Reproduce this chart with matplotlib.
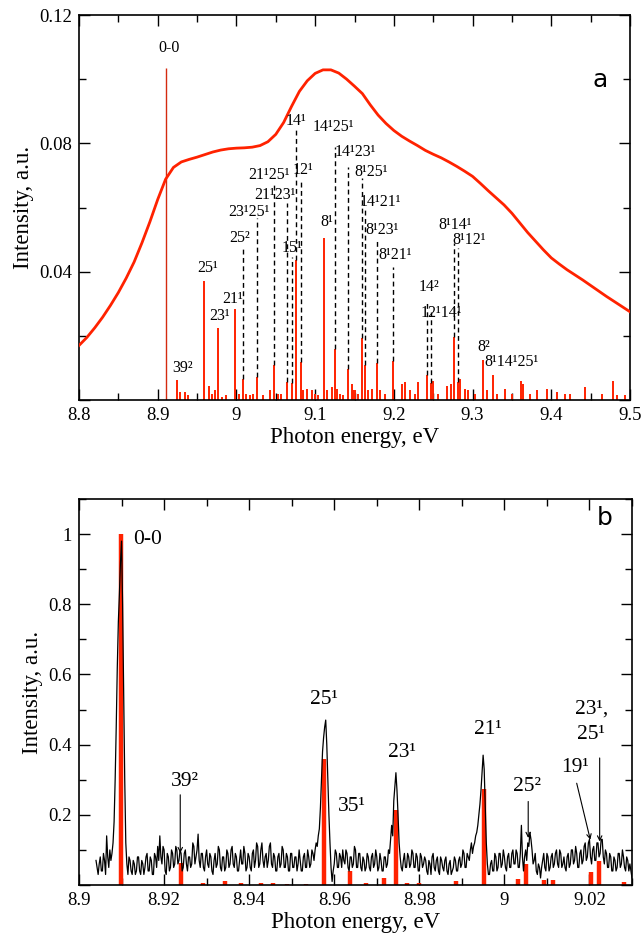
import matplotlib
matplotlib.use("Agg")
import matplotlib.pyplot as plt
from matplotlib.ticker import MultipleLocator, FuncFormatter

plt.rcParams['font.family'] = ['Liberation Serif', 'DejaVu Serif']

RED = "#ff2200"

# ---------------- panel a data ----------------
# smooth envelope
env_e = [8.80, 8.81, 8.82, 8.83, 8.84, 8.85, 8.86, 8.87, 8.88, 8.89,
         8.90, 8.91, 8.92, 8.93, 8.94, 8.95, 8.96, 8.97, 8.98, 8.99,
         9.00, 9.01, 9.02, 9.03, 9.04, 9.05, 9.06, 9.07, 9.08, 9.09,
         9.10, 9.11, 9.12, 9.13, 9.14, 9.15, 9.16, 9.17, 9.18, 9.19,
         9.20, 9.21, 9.22, 9.23, 9.24, 9.25, 9.26, 9.27, 9.28, 9.29,
         9.30, 9.31, 9.32, 9.33, 9.34, 9.35, 9.36, 9.37, 9.38, 9.39,
         9.40, 9.41, 9.42, 9.43, 9.44, 9.45, 9.46, 9.47, 9.48, 9.49, 9.50]
env_i = [0.0170, 0.0195, 0.0225, 0.0258, 0.0295, 0.0335, 0.0380, 0.0430, 0.0490, 0.0555,
         0.0625, 0.0688, 0.0725, 0.0742, 0.0750, 0.0757, 0.0765, 0.0773, 0.0779, 0.0783,
         0.0785, 0.0786, 0.0788, 0.0793, 0.0805, 0.0828, 0.0865, 0.0915, 0.0962, 0.0995,
         0.1018, 0.1029, 0.1029, 0.1019, 0.1000, 0.0978, 0.0955, 0.0920, 0.0888, 0.0862,
         0.0840, 0.0822, 0.0807, 0.0793, 0.0778, 0.0766, 0.0755, 0.0742, 0.0728, 0.0713,
         0.0697, 0.0675, 0.0652, 0.0630, 0.0608, 0.0582, 0.0552, 0.0522, 0.0495, 0.0468,
         0.0443, 0.0424, 0.0406, 0.0390, 0.0374, 0.0357, 0.0340, 0.0323, 0.0307, 0.0291, 0.0275]

# 0-0 origin line
origin_e = 8.910
origin_i = 0.1035

# stick spectrum
stick_e = [8.9245, 8.959, 8.976, 8.998, 9.008, 9.026, 9.0477, 9.0639, 9.0712, 9.0757,
           9.0815, 9.1116, 9.1253, 9.142, 9.159, 9.1634, 9.178, 9.1993, 9.2416, 9.2472,
           9.2768, 9.2819, 9.3128, 9.3264,
           8.9283, 8.935, 8.939, 8.9656, 8.9686, 8.9728, 8.9813, 8.9868, 9.0037, 9.0122,
           9.0172, 9.0215, 9.0334, 9.0427, 9.0533, 9.0566, 9.085, 9.0893, 9.0956, 9.0998,
           9.104, 9.1147, 9.121, 9.1274, 9.1316, 9.1358, 9.1464, 9.1485, 9.1506, 9.1549,
           9.1676, 9.1719, 9.1824, 9.1888, 9.21, 9.2142, 9.2205, 9.2269, 9.2311, 9.2502,
           9.2565, 9.2671, 9.2726, 9.284, 9.2904, 9.2946, 9.3031, 9.318, 9.3307, 9.3412,
           9.3497, 9.3616, 9.3637, 9.373, 9.3815, 9.3942, 9.4069, 9.4175, 9.4238, 9.4429,
           9.4641, 9.4789, 9.483, 9.4937]
stick_i = [0.0062, 0.037, 0.0225, 0.0285, 0.0065, 0.0072, 0.011, 0.0056, 0.0053, 0.0436,
           0.0117, 0.0506, 0.0159, 0.0097, 0.0194, 0.011, 0.0115, 0.0122, 0.0078, 0.0053,
           0.0197, 0.0057, 0.0125, 0.0078,
           0.0025, 0.0025, 0.0015, 0.0045, 0.002, 0.003, 0.001, 0.0015, 0.002, 0.002,
           0.0015, 0.002, 0.0015, 0.003, 0.002, 0.002, 0.003, 0.0035, 0.003, 0.002,
           0.0015, 0.003, 0.004, 0.0035, 0.002, 0.0015, 0.005, 0.003, 0.003, 0.002,
           0.003, 0.0035, 0.003, 0.002, 0.005, 0.0055, 0.003, 0.002, 0.0055, 0.006,
           0.002, 0.0045, 0.005, 0.0065, 0.0035, 0.003, 0.002, 0.003, 0.002, 0.0035,
           0.002, 0.006, 0.005, 0.002, 0.003, 0.0035, 0.0025, 0.002, 0.002, 0.004,
           0.002, 0.006, 0.0015, 0.0015]

# dashed leader lines: energy, bottom, top
lead_e = [9.008, 9.026, 9.0477, 9.0639, 9.0712, 9.0757, 9.0815, 9.1253, 9.142, 9.159,
          9.1634, 9.178, 9.1993, 9.2416, 9.2472, 9.2768, 9.2819]
lead_lo = [0.0065, 0.0072, 0.011, 0.0056, 0.0053, 0.0436, 0.0117, 0.0159, 0.0097, 0.0194,
           0.011, 0.0115, 0.0122, 0.0078, 0.0053, 0.0197, 0.0057]
lead_hi = [0.0478, 0.0567, 0.067, 0.0614, 0.0446, 0.0848, 0.0679, 0.0789, 0.0726, 0.0692,
           0.0598, 0.0505, 0.0415, 0.0312, 0.0274, 0.0489, 0.0474]

# labels (centre positions)
a_labels = ["0-0", "39²", "25¹", "23¹", "21¹", "25²", "23¹25¹", "21¹25¹", "21¹23¹", "14¹",
            "12¹", "15¹", "8¹", "14¹25¹", "14¹23¹", "8¹25¹", "14¹21¹", "8¹23¹", "8¹21¹",
            "8¹14¹", "8¹12¹", "14²", "12¹14¹", "8²", "8¹14¹25¹"]
a_lab_e = [8.915, 8.931, 8.964, 8.979, 8.9957, 9.0045, 9.016, 9.0408, 9.049, 9.0757,
           9.0852, 9.0712, 9.1147, 9.1227, 9.1513, 9.1716, 9.1824, 9.185, 9.2015,
           9.2777, 9.2961, 9.2447, 9.26, 9.3145, 9.3495]
a_lab_i = [0.1097, 0.0100, 0.0411, 0.0262, 0.0315, 0.0505, 0.0586, 0.0701, 0.0639, 0.0870,
           0.0717, 0.0474, 0.0556, 0.0852, 0.0774, 0.0712, 0.0618, 0.0530, 0.0452,
           0.0545, 0.0499, 0.0353, 0.0271, 0.0166, 0.0119]

# ---------------- panel b data ----------------
# measured spectrum, rows of 20 points, 0.25 meV apart, row k starts at b_start + k*0.005
b_start = 8.904
b_step = 0.00025
b_rows = [
    [0.07, 0.05, 0.03, 0.06, 0.08, 0.04, 0.04, 0.09, 0.07, 0.03, 0.14, 0.08, 0.05, 0.10, 0.07, 0.09, 0.12, 0.18, 0.30, 0.45],
    [0.62, 0.75, 0.83, 0.92, 0.98, 0.80, 0.55, 0.30, 0.12, 0.06, 0.03, 0.08, 0.07, 0.04, 0.03, 0.07, 0.06, 0.03, 0.04, 0.08],
    [0.08, 0.04, 0.03, 0.07, 0.06, 0.03, 0.05, 0.08, 0.09, 0.04, 0.04, 0.08, 0.07, 0.03, 0.03, 0.09, 0.08, 0.05, 0.11, 0.07],
    [0.14, 0.08, 0.06, 0.11, 0.10, 0.04, 0.03, 0.09, 0.08, 0.04, 0.05, 0.10, 0.09, 0.05, 0.06, 0.11, 0.10, 0.06, 0.07, 0.10],
    [0.09, 0.04, 0.05, 0.09, 0.10, 0.06, 0.04, 0.08, 0.08, 0.05, 0.06, 0.12, 0.11, 0.06, 0.08, 0.10, 0.145, 0.07, 0.05, 0.09],
    [0.09, 0.05, 0.04, 0.08, 0.10, 0.06, 0.05, 0.09, 0.08, 0.04, 0.03, 0.07, 0.09, 0.05, 0.06, 0.11, 0.10, 0.05, 0.04, 0.08],
    [0.08, 0.04, 0.05, 0.10, 0.09, 0.05, 0.06, 0.10, 0.11, 0.06, 0.05, 0.09, 0.08, 0.04, 0.04, 0.07, 0.10, 0.06, 0.06, 0.11],
    [0.09, 0.04, 0.05, 0.09, 0.08, 0.05, 0.04, 0.09, 0.10, 0.05, 0.07, 0.12, 0.11, 0.05, 0.06, 0.10, 0.12, 0.07, 0.05, 0.08],
    [0.09, 0.05, 0.07, 0.11, 0.12, 0.06, 0.05, 0.09, 0.08, 0.04, 0.04, 0.08, 0.09, 0.05, 0.06, 0.11, 0.10, 0.05, 0.05, 0.09],
    [0.08, 0.04, 0.04, 0.09, 0.09, 0.05, 0.05, 0.08, 0.08, 0.04, 0.06, 0.10, 0.07, 0.04, 0.04, 0.08, 0.09, 0.05, 0.05, 0.10],
    [0.08, 0.05, 0.06, 0.10, 0.09, 0.07, 0.10, 0.12, 0.11, 0.14, 0.16, 0.22, 0.30, 0.38, 0.42, 0.45, 0.47, 0.40, 0.30, 0.20],
    [0.12, 0.05, 0.01, 0.04, 0.06, 0.10, 0.09, 0.05, 0.05, 0.09, 0.08, 0.05, 0.10, 0.07, 0.06, 0.10, 0.09, 0.05, 0.04, 0.08],
    [0.08, 0.05, 0.06, 0.11, 0.10, 0.05, 0.05, 0.09, 0.09, 0.05, 0.04, 0.08, 0.07, 0.04, 0.05, 0.09, 0.08, 0.05, 0.04, 0.08],
    [0.09, 0.05, 0.06, 0.10, 0.08, 0.04, 0.05, 0.09, 0.07, 0.04, 0.04, 0.08, 0.08, 0.05, 0.06, 0.10, 0.09, 0.13, 0.17, 0.14],
    [0.24, 0.28, 0.32, 0.27, 0.20, 0.12, 0.08, 0.05, 0.04, 0.07, 0.09, 0.05, 0.05, 0.09, 0.08, 0.05, 0.06, 0.10, 0.09, 0.05],
    [0.05, 0.09, 0.08, 0.04, 0.04, 0.09, 0.08, 0.05, 0.06, 0.08, 0.07, 0.04, 0.03, 0.07, 0.06, 0.03, 0.08, 0.09, 0.05, 0.04],
    [0.07, 0.08, 0.04, 0.03, 0.08, 0.07, 0.05, 0.04, 0.07, 0.08, 0.04, 0.03, 0.06, 0.07, 0.03, 0.04, 0.05, 0.08, 0.07, 0.04],
    [0.04, 0.07, 0.08, 0.05, 0.06, 0.10, 0.09, 0.05, 0.05, 0.09, 0.08, 0.07, 0.10, 0.12, 0.09, 0.11, 0.12, 0.14, 0.15, 0.17],
    [0.20, 0.23, 0.27, 0.32, 0.37, 0.33, 0.22, 0.12, 0.06, 0.03, 0.03, 0.06, 0.07, 0.04, 0.04, 0.09, 0.08, 0.04, 0.05, 0.09],
    [0.09, 0.05, 0.06, 0.10, 0.08, 0.05, 0.04, 0.08, 0.09, 0.05, 0.05, 0.09, 0.10, 0.06, 0.06, 0.10, 0.09, 0.05, 0.05, 0.09],
    [0.17, 0.08, 0.04, 0.08, 0.10, 0.07, 0.12, 0.11, 0.15, 0.13, 0.10, 0.06, 0.07, 0.09, 0.04, 0.03, 0.06, 0.05, 0.02, 0.05],
    [0.07, 0.09, 0.05, 0.04, 0.09, 0.08, 0.04, 0.05, 0.08, 0.09, 0.05, 0.06, 0.09, 0.10, 0.06, 0.05, 0.10, 0.09, 0.05, 0.06],
    [0.08, 0.05, 0.04, 0.08, 0.09, 0.05, 0.06, 0.10, 0.10, 0.06, 0.07, 0.11, 0.09, 0.05, 0.05, 0.09, 0.10, 0.06, 0.07, 0.11],
    [0.12, 0.07, 0.08, 0.12, 0.13, 0.08, 0.06, 0.10, 0.11, 0.07, 0.07, 0.12, 0.12, 0.08, 0.09, 0.13, 0.13, 0.08, 0.06, 0.10],
    [0.09, 0.05, 0.05, 0.09, 0.08, 0.04, 0.04, 0.08, 0.07, 0.04, 0.05, 0.09, 0.09, 0.05, 0.06, 0.10, 0.08, 0.05, 0.04, 0.08],
    [0.07, 0.04, 0.06, 0.04, 0.02],
]

b_stick_e = [8.9099, 8.9239, 8.9292, 8.9343, 8.938, 8.9427, 8.9457, 8.949, 8.9533, 8.9575,
             8.9637, 8.9675, 8.9716, 8.9745, 8.977, 8.980, 8.9886, 8.9951, 9.0033, 9.0051,
             9.0092, 9.0114, 9.0204, 9.0222, 9.0282]
b_stick_i = [1.0, 0.062, 0.005, 0.011, 0.007, 0.005, 0.007, 0.003, 0.003, 0.36,
             0.041, 0.005, 0.020, 0.214, 0.005, 0.005, 0.011, 0.273, 0.016, 0.060,
             0.014, 0.014, 0.038, 0.069, 0.009]

b_labels = ["0-0", "39²", "25¹", "35¹", "23¹", "21¹", "25²", "19¹", "23¹,", "25¹"]
b_lab_e = [8.9161, 8.925, 8.9576, 8.9641, 8.9759, 8.9962, 9.0052, 9.0165, 9.0205, 9.0203]
b_lab_i = [0.986, 0.295, 0.529, 0.223, 0.377, 0.443, 0.280, 0.334, 0.500, 0.428]

# arrows: start energy, tip energy, start height, tip height
arr_e0 = [8.9238, 9.0056, 9.0170, 9.0224]
arr_e1 = [8.9238, 9.0056, 9.0202, 9.0224]
arr_y0 = [0.257, 0.238, 0.290, 0.362]
arr_y1 = [0.091, 0.134, 0.129, 0.124]


def style_axes(ax):
    ax.tick_params(which='both', direction='in', top=True, right=True, labelsize=13.5, pad=5)
    ax.tick_params(which='major', length=8, width=1)
    ax.tick_params(which='minor', length=5, width=1)
    for s in ax.spines.values():
        s.set_linewidth(1.2)


def fmt_hide_zero(v, pos):
    if abs(v) < 1e-9:
        return ""
    return "%g" % round(v, 4)


fig = plt.figure(figsize=(6.41, 9.42), dpi=100)

# ---------------- panel a ----------------
ax1 = fig.add_axes([79 / 641, 1 - 400 / 942, 551 / 641, 385 / 942])
ax1.plot(env_e, env_i, color=RED, lw=2.0, zorder=3)
ax1.vlines([origin_e], 0, [origin_i], color="#d42a10", lw=1.0)
ax1.vlines(stick_e, 0, stick_i, color=RED, lw=1.4)
ax1.vlines(lead_e, lead_lo, lead_hi, color="black", lw=1.0, linestyles=(0, (3.5, 2.5)))
for lab, e, y in zip(a_labels, a_lab_e, a_lab_i):
    ax1.text(e, y, lab, ha='center', va='center', fontsize=11.5)
ax1.text(0.945, 0.83, "a", transform=ax1.transAxes, fontsize=18,
         family=['DejaVu Sans'], ha='center', va='center')
ax1.set_xlim(8.8, 9.5)
ax1.set_ylim(0, 0.12)
ax1.xaxis.set_major_locator(MultipleLocator(0.1))
ax1.xaxis.set_minor_locator(MultipleLocator(0.05))
ax1.yaxis.set_major_locator(MultipleLocator(0.04))
ax1.yaxis.set_minor_locator(MultipleLocator(0.02))
ax1.xaxis.set_major_formatter(FuncFormatter(lambda v, p: "%g" % round(v, 3)))
ax1.yaxis.set_major_formatter(FuncFormatter(fmt_hide_zero))
style_axes(ax1)
ax1.set_xlabel("Photon energy, eV", fontsize=16.5, labelpad=2)
ax1.set_ylabel("Intensity, a.u.", fontsize=16.5, labelpad=4)

# ---------------- panel b ----------------
ax2 = fig.add_axes([79 / 641, 1 - 885 / 942, 553 / 641, 386 / 942])
b_vals = []
b_en = []
for k, row in enumerate(b_rows):
    for j, v in enumerate(row):
        b_en.append(b_start + 0.005 * k + b_step * j)
        b_vals.append(v)
ax2.vlines(b_stick_e, 0, b_stick_i, color=RED, lw=3.2, zorder=2)
ax2.plot(b_en, b_vals, color="black", lw=0.9, zorder=3)
for lab, e, y in zip(b_labels, b_lab_e, b_lab_i):
    ax2.text(e, y, lab, ha='center', va='center', fontsize=15.5)
for e0, e1, y0, y1 in zip(arr_e0, arr_e1, arr_y0, arr_y1):
    ax2.annotate("", xy=(e1, y1), xytext=(e0, y0),
                 arrowprops=dict(arrowstyle='->', lw=0.8, color='black',
                                 shrinkA=0, shrinkB=0, mutation_scale=8))
ax2.text(0.95, 0.95, "b", transform=ax2.transAxes, fontsize=18,
         family=['DejaVu Sans'], ha='center', va='center')
ax2.set_xlim(8.9, 9.03)
ax2.set_ylim(0, 1.1)
ax2.xaxis.set_major_locator(MultipleLocator(0.02))
ax2.xaxis.set_minor_locator(MultipleLocator(0.01))
ax2.yaxis.set_major_locator(MultipleLocator(0.2))
ax2.yaxis.set_minor_locator(MultipleLocator(0.1))
ax2.xaxis.set_major_formatter(FuncFormatter(lambda v, p: "%g" % round(v, 3)))
ax2.yaxis.set_major_formatter(FuncFormatter(fmt_hide_zero))
style_axes(ax2)
ax2.set_xlabel("Photon energy, eV", fontsize=16.5, labelpad=2)
ax2.set_ylabel("Intensity, a.u.", fontsize=16.5, labelpad=4)

fig.savefig("out.png", dpi=100)
